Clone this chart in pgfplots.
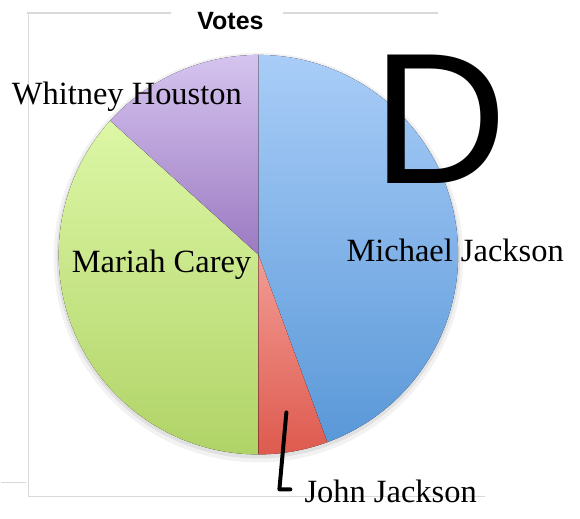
\documentclass[border=0pt]{standalone}
\usepackage{pgfplots}
\usepackage{pgfplotstable}
\pgfplotsset{compat=1.18}
\usepackage{fontspec}
\setmainfont{Liberation Serif}
\newfontfamily\arialfont{Liberation Sans}
\definecolor{blueT}{HTML}{A9CDF8}
\definecolor{blueB}{HTML}{5A98D8}
\definecolor{redT}{HTML}{F29C95}
\definecolor{redB}{HTML}{DE5A4E}
\definecolor{greenT}{HTML}{DDF7A6}
\definecolor{greenB}{HTML}{B0D367}
\definecolor{purpleT}{HTML}{D5C4EF}
\definecolor{purpleB}{HTML}{9C7AC2}
\definecolor{frame}{HTML}{D9D9D9}
\pgfplotstableread{
name value
Michael 44.4
John 5.6
Mariah 36.7
Whitney 13.3
}\votes
\pgfplotstablegetelem{0}{value}\of\votes \let\vA\pgfplotsretval
\pgfplotstablegetelem{1}{value}\of\votes \let\vB\pgfplotsretval
\pgfplotstablegetelem{2}{value}\of\votes \let\vC\pgfplotsretval
\pgfplotstablegetelem{3}{value}\of\votes \let\vD\pgfplotsretval
\pgfmathsetmacro\aO{90}
\pgfmathsetmacro\aI{\aO-3.6*\vA}
\pgfmathsetmacro\aII{\aI-3.6*\vB}
\pgfmathsetmacro\aIII{\aII-3.6*\vC}
\pgfmathsetmacro\aIV{\aIII-3.6*\vD}
\def\cx{258}
\def\cy{264}
\def\R{200}
\begin{document}
\begin{tikzpicture}
\begin{axis}[
  x=1pt, y=1pt,
  xmin=0, xmax=580, ymin=0, ymax=519,
  hide axis, clip=false,
]
\path (axis cs:0,0) rectangle (axis cs:580,519);
% frame
\draw[frame, line width=1.5pt] (axis cs:26,506) -- (axis cs:170,506);
\draw[frame, line width=1.5pt] (axis cs:283,506) -- (axis cs:438,506);
\draw[frame, line width=1.5pt] (axis cs:28,506) -- (axis cs:28,22) -- (axis cs:485,22);
\draw[frame, line width=1.5pt] (axis cs:0,36) -- (axis cs:25,36);
% shadow
\fill[black, opacity=0.05] (axis cs:\cx,\cy-3) circle[radius=205];
\fill[black, opacity=0.07] (axis cs:\cx,\cy-2) circle[radius=202];
% slices
\fill[top color=blueT, bottom color=blueB] (axis cs:\cx,\cy) -- ([shift={(\aO:\R)}]axis cs:\cx,\cy) arc[start angle=\aO, end angle=\aI, radius=\R] -- cycle;
\fill[top color=redT, bottom color=redB] (axis cs:\cx,\cy) -- ([shift={(\aI:\R)}]axis cs:\cx,\cy) arc[start angle=\aI, end angle=\aII, radius=\R] -- cycle;
\fill[top color=greenT, bottom color=greenB] (axis cs:\cx,\cy) -- ([shift={(\aII:\R)}]axis cs:\cx,\cy) arc[start angle=\aII, end angle=\aIII, radius=\R] -- cycle;
\fill[top color=purpleT, bottom color=purpleB] (axis cs:\cx,\cy) -- ([shift={(\aIII:\R)}]axis cs:\cx,\cy) arc[start angle=\aIII, end angle=\aIV, radius=\R] -- cycle;
% title
\node[anchor=base, inner sep=0pt, font=\arialfont\bfseries\fontsize{25}{30}\selectfont] at (axis cs:230,489) {Votes};
% big D
\node[anchor=base west, inner sep=0pt, font=\arialfont\fontsize{187}{200}\selectfont] at (axis cs:372,335) {D};
% labels
\node[anchor=base west, inner sep=0pt, font=\fontsize{32.5}{39}\selectfont] at (axis cs:11,414) {Whitney Houston};
\node[anchor=base west, inner sep=0pt, font=\fontsize{32.5}{39}\selectfont] at (axis cs:346,257) {Michael Jackson};
\node[anchor=base west, inner sep=0pt, font=\fontsize{32.5}{39}\selectfont] at (axis cs:71,246) {Mariah Carey};
\node[anchor=base west, inner sep=0pt, font=\fontsize{32.5}{39}\selectfont] at (axis cs:304,16) {John Jackson};
% hand-drawn stroke
\draw[black, line width=4pt, line cap=round, line join=round] (axis cs:286,106) -- (axis cs:279,29) -- (axis cs:290,29);
\end{axis}
\end{tikzpicture}
\end{document}
